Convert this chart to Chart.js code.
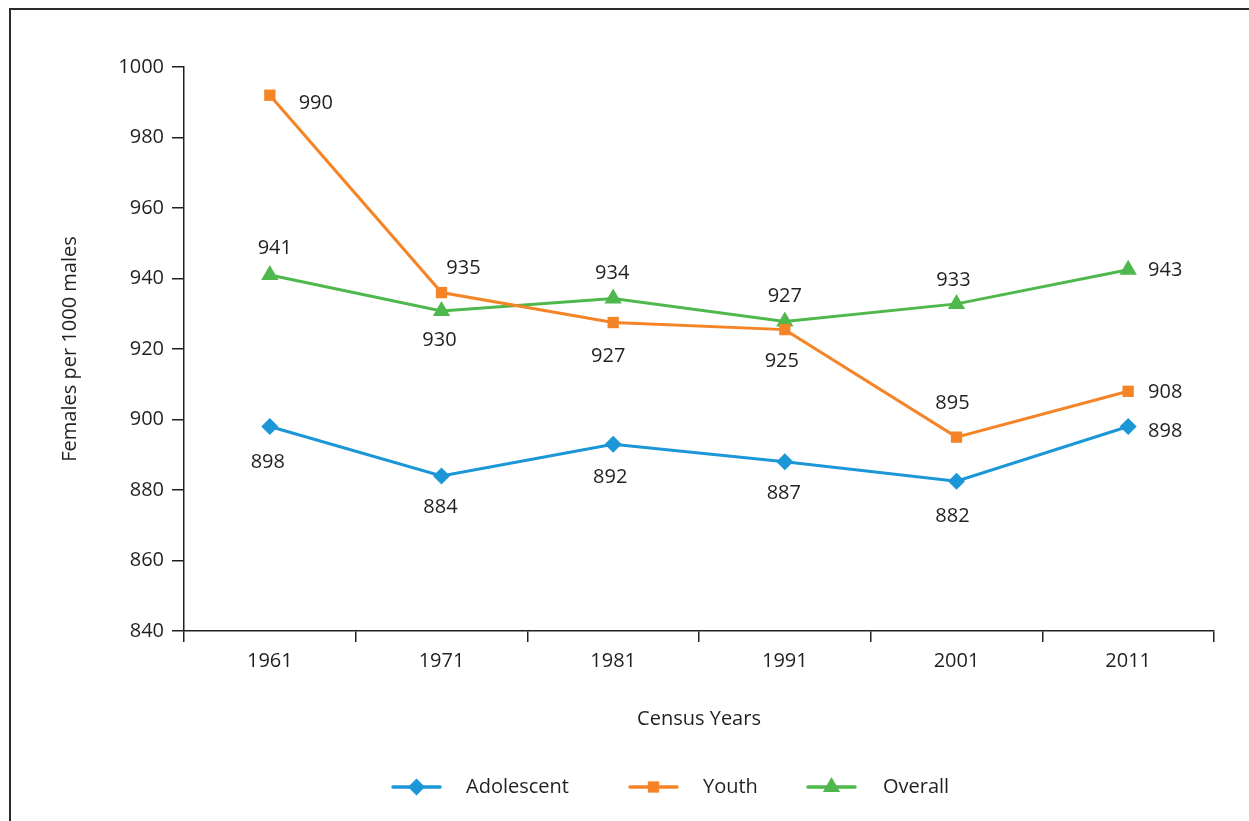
<!DOCTYPE html>
<html>
<head>
<meta charset="utf-8">
<script src="https://cdn.jsdelivr.net/npm/chart.js@4.4.1/dist/chart.umd.min.js"></script>
<style>
    html, body { margin: 0; padding: 0; background: #fff; }
    #wrap { width: 1249px; height: 821px; position: relative; }
</style>
</head>
<body>
<div id="wrap"><canvas id="sexRatioChart" width="1249" height="821"></canvas></div>
<script>
const years = ['1961', '1971', '1981', '1991', '2001', '2011'];
const yTicks = [840, 860, 880, 900, 920, 940, 960, 980, 1000];

// plotted positions
const adolescent = [898, 884, 893, 888, 882.5, 898];
const youth = [992, 936, 927.5, 925.5, 895, 908];
const overall = [941, 930.8, 934.3, 927.8, 932.8, 942.5];

// printed value labels
const adolescentLabels = ['898', '884', '892', '887', '882', '898'];
const youthLabels = ['990', '935', '927', '925', '895', '908'];
const overallLabels = ['941', '930', '934', '927', '933', '943'];

const FONT = '"Open Sans", "Noto Sans", sans-serif';
const INK = '#231f20';

// label offsets from each point (px)
const labelOffsets = [
    [[-2, 36], [-1, 31], [-3, 33], [-1, 31], [-4, 35], [37, 5]],
    [[46, 8], [22, -24], [-5, 34], [-3, 32], [-4, -34], [37, 1]],
    [[5, -27], [-2, 29], [-1, -25], [0, -25], [-3, -24], [37, 1]]
];
const labelTexts = [adolescentLabels, youthLabels, overallLabels];

const valueLabels = {
    id: 'valueLabels',
    afterDatasetsDraw(chart) {
        const ctx = chart.ctx;
        ctx.save();
        ctx.font = '20px ' + FONT;
        ctx.fillStyle = INK;
        ctx.textAlign = 'center';
        ctx.textBaseline = 'middle';
        chart.data.datasets.forEach((ds, i) => {
            chart.getDatasetMeta(i).data.forEach((pt, j) => {
                const off = labelOffsets[i][j];
                ctx.fillText(labelTexts[i][j], pt.x + off[0], pt.y + off[1]);
            });
        });
        ctx.restore();
    }
};

const frameAndLegend = {
    id: 'frameAndLegend',
    beforeDraw(chart) {
        const ctx = chart.ctx;
        ctx.save();
        ctx.strokeStyle = '#2b2b2b';
        ctx.lineWidth = 2;
        ctx.beginPath();
        ctx.moveTo(10, 830);
        ctx.lineTo(10, 9);
        ctx.lineTo(1260, 9);
        ctx.stroke();
        ctx.restore();
    },
    afterDraw(chart) {
        const ctx = chart.ctx;
        const items = [
            { x: 393, textX: 466 },
            { x: 630, textX: 703 },
            { x: 808, textX: 883 }
        ];
        const y = 787;
        ctx.save();
        chart.data.datasets.forEach((ds, i) => {
            const it = items[i];
            ctx.strokeStyle = ds.borderColor;
            ctx.lineWidth = 3.5;
            ctx.lineCap = 'round';
            ctx.beginPath();
            ctx.moveTo(it.x, y);
            ctx.lineTo(it.x + 47, y);
            ctx.stroke();
            ctx.fillStyle = ds.backgroundColor;
            ctx.strokeStyle = ds.borderColor;
            Chart.helpers.drawPoint(ctx, {
                pointStyle: ds.pointStyle,
                radius: ds.pointRadius,
                rotation: 0,
                borderWidth: 0
            }, it.x + 23.5, y);
            ctx.fillStyle = INK;
            ctx.font = '20px ' + FONT;
            ctx.textAlign = 'left';
            ctx.textBaseline = 'middle';
            ctx.fillText(ds.label, it.textX, y);
        });
        ctx.restore();
    }
};

const ctx = document.getElementById('sexRatioChart').getContext('2d');
new Chart(ctx, {
    type: 'line',
    data: {
        labels: years,
        datasets: [{
            label: 'Adolescent',
            data: adolescent,
            borderColor: '#1b96d6',
            backgroundColor: '#1b96d6',
            pointStyle: 'rectRot',
            pointRadius: 8.5,
            pointBorderWidth: 0,
            borderWidth: 3,
            tension: 0
        }, {
            label: 'Youth',
            data: youth,
            borderColor: '#f58426',
            backgroundColor: '#f58426',
            pointStyle: 'rect',
            pointRadius: 8,
            pointBorderWidth: 0,
            borderWidth: 3,
            tension: 0
        }, {
            label: 'Overall',
            data: overall,
            borderColor: '#4fb84c',
            backgroundColor: '#4fb84c',
            pointStyle: 'triangle',
            pointRadius: 10,
            pointBorderWidth: 0,
            borderWidth: 3,
            tension: 0
        }]
    },
    options: {
        responsive: false,
        animation: false,
        layout: { padding: { left: 0, right: 35, top: 67, bottom: 0 } },
        plugins: {
            legend: { display: false },
            tooltip: { enabled: false }
        },
        scales: {
            x: {
                offset: true,
                grid: {
                    offset: true,
                    drawOnChartArea: false,
                    drawTicks: true,
                    tickLength: 11,
                    color: INK,
                    lineWidth: 1.5
                },
                border: { color: INK, width: 1.5 },
                ticks: { color: INK, font: { family: FONT, size: 20 }, padding: 7, maxRotation: 0 },
                title: {
                    display: true,
                    text: 'Census Years',
                    color: INK,
                    font: { family: FONT, size: 20 },
                    padding: { top: 0, bottom: 90 }
                },
                afterFit(scale) { scale.height = 190; }
            },
            y: {
                min: 840,
                max: 1000,
                afterBuildTicks(scale) { scale.ticks = yTicks.map(v => ({ value: v })); },
                grid: {
                    drawOnChartArea: false,
                    drawTicks: true,
                    tickLength: 12,
                    color: INK,
                    lineWidth: 1.5
                },
                border: { color: INK, width: 1.5 },
                ticks: {
                    color: INK,
                    font: { family: FONT, size: 20 },
                    padding: 8,
                    callback: v => String(v)
                },
                title: {
                    display: true,
                    text: 'Females per 1000 males',
                    color: INK,
                    font: { family: FONT, size: 20 },
                    padding: { top: 58, bottom: 0 }
                },
                afterFit(scale) { scale.width = 184; }
            }
        }
    },
    plugins: [valueLabels, frameAndLegend]
});
</script>
</body>
</html>
